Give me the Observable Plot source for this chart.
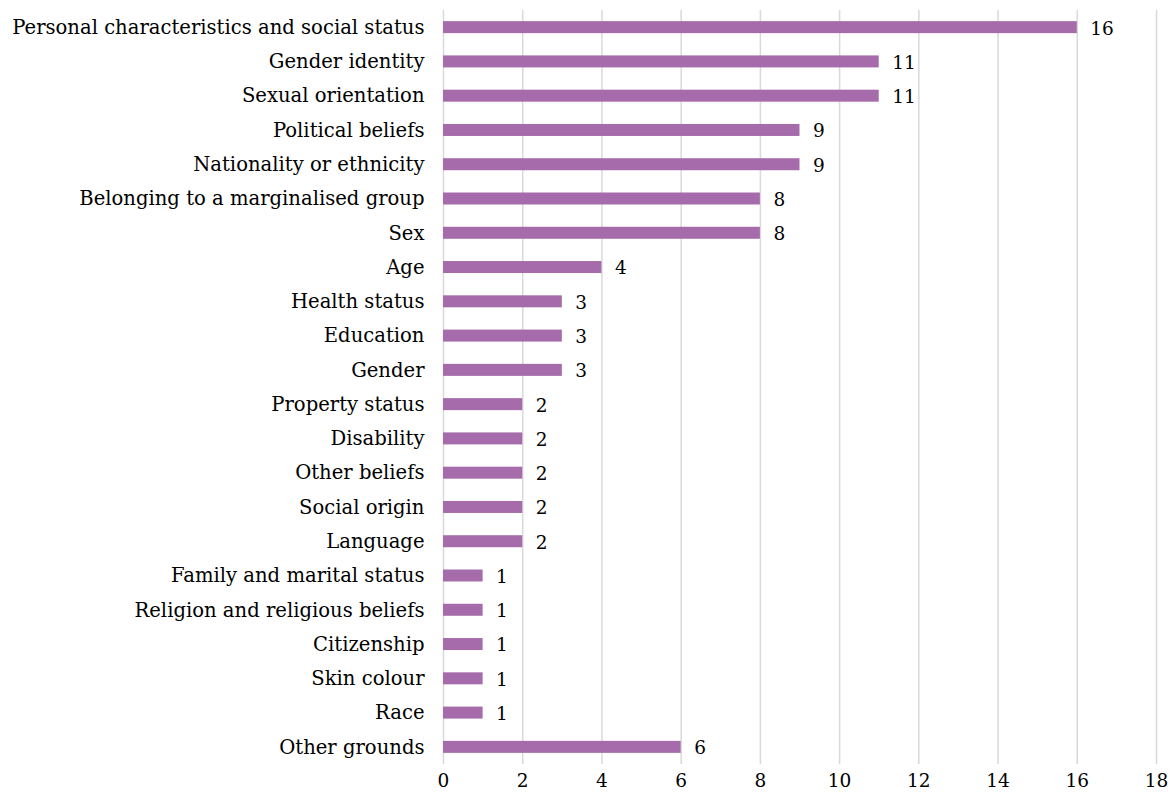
<!DOCTYPE html>
<html>
<head>
<meta charset="utf-8">
<script src="https://cdn.jsdelivr.net/npm/d3@7"></script>
<script src="https://cdn.jsdelivr.net/npm/@observablehq/plot@0.6"></script>
<style>
  html, body { margin: 0; padding: 0; background: #fff; }
  #chart svg { font-family: "DejaVu Serif", serif; }
</style>
</head>
<body>
<div id="chart"></div>
<script>
const categories = [
  "Personal characteristics and social status",
  "Gender identity",
  "Sexual orientation",
  "Political beliefs",
  "Nationality or ethnicity",
  "Belonging to a marginalised group",
  "Sex",
  "Age",
  "Health status",
  "Education",
  "Gender",
  "Property status",
  "Disability",
  "Other beliefs",
  "Social origin",
  "Language",
  "Family and marital status",
  "Religion and religious beliefs",
  "Citizenship",
  "Skin colour",
  "Race",
  "Other grounds"
];
const values = [16, 11, 11, 9, 9, 8, 8, 4, 3, 3, 3, 2, 2, 2, 2, 2, 1, 1, 1, 1, 1, 6];
const xTicks = [0, 2, 4, 6, 8, 10, 12, 14, 16, 18];

const data = categories.map((c, i) => ({category: c, value: values[i]}));

const chart = Plot.plot({
  width: 1174,
  height: 792,
  marginLeft: 443,
  marginRight: 18,
  marginTop: 10,
  marginBottom: 28,
  style: {fontFamily: "DejaVu Serif, serif", fontSize: "18px", color: "#000", background: "#fff"},
  x: {domain: [0, 18], ticks: xTicks, tickSize: 0, tickPadding: 9, label: null},
  y: {domain: categories, paddingInner: 0.65, paddingOuter: 0.325, round: false, tickSize: 0, tickPadding: 19, label: null},
  marks: [
    Plot.ruleX(xTicks, {stroke: "#d9d9d9", strokeWidth: 1.5}),
    Plot.barX(data, {x: "value", y: "category", fill: "#a66bab"}),
    Plot.text(data, {x: "value", y: "category", text: d => String(d.value), textAnchor: "start", dx: 13, dy: 1, fontSize: 18.5, fill: "#000"}),
    Plot.axisX({ticks: xTicks, tickSize: 0, tickPadding: 9, fontSize: 18.5, label: null}),
    Plot.axisY({tickSize: 0, tickPadding: 19, fontSize: 19.6, label: null})
  ]
});
document.getElementById("chart").appendChild(chart);
</script>
</body>
</html>
